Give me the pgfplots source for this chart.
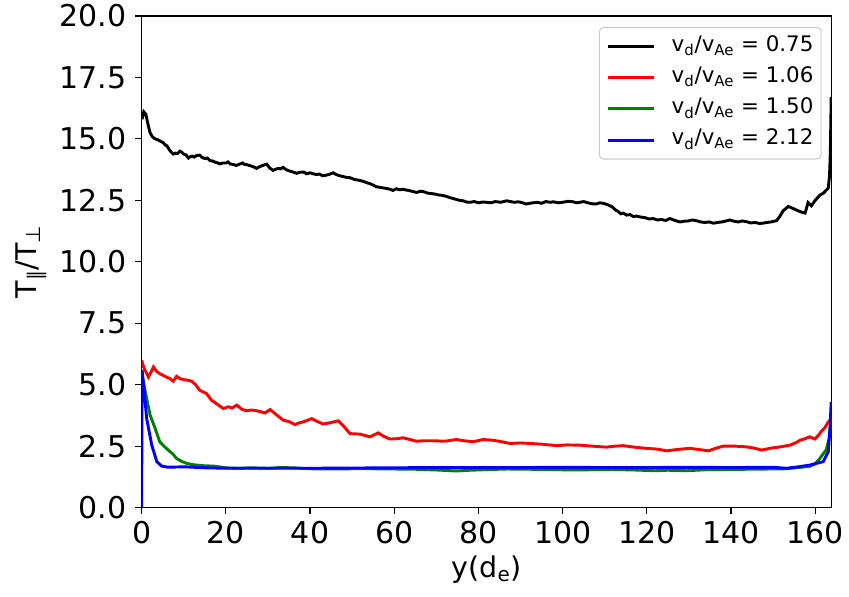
\documentclass[border=0pt]{standalone}
\usepackage{pgfplots}
\pgfplotsset{compat=1.18}
\usepackage{fontspec}
\setmainfont{DejaVu Sans}
\usetikzlibrary{calc}
\definecolor{mplgreen}{HTML}{008000}
\definecolor{legendgray}{HTML}{CCCCCC}
\begin{document}
\begin{tikzpicture}
\begin{axis}[
  name=ax,
  scale only axis,
  width=496.8pt, height=354pt,
  xmin=0, xmax=163.9, ymin=0, ymax=20,
  xtick={0,20,40,60,80,100,120,140,160},
  ytick={0,2.5,5,7.5,10,12.5,15,17.5,20},
  /pgf/number format/assume math mode=true,
  tick label style={font=\fontsize{21.6}{25}\selectfont},
  xticklabel style={inner ysep=5pt},
  yticklabel style={inner xsep=6pt, /pgf/number format/.cd, fixed, fixed zerofill, precision=1},
  label style={font=\fontsize{20.5}{24}\selectfont},
  xlabel={y(d\textsubscript{e})},
  ylabel={T\textsubscript{∥}/T\textsubscript{⊥}},
  tick align=outside,
  xtick pos=lower, ytick pos=left,
  major tick length=4.8pt,
  every tick/.style={black, line width=0.8pt},
  axis line style={line width=0.8pt},
  clip=true,
  legend style={at={(1,1)}, anchor=north east, xshift=-7.2pt, yshift=-7.9pt,
    draw=legendgray, line width=0.8pt, rounded corners=3pt, fill=white, fill opacity=0.8, text opacity=1,
    font=\fontsize{15.4}{18}\selectfont, inner xsep=5.5pt, inner ysep=6pt,
    nodes={inner sep=0pt, text height=11pt, text depth=4.2pt},
    column sep=11.5pt, row sep=7.3pt},
  legend cell align=left,
  legend image code/.code={\draw[#1] (0pt,0pt) -- (33pt,0pt);},
]
\addplot[black, line width=2.1pt] coordinates {
(0.1,15.8)(0.5,16.1)(1,16.0)(1.5,15.6)(2,15.25)(2.5,15.1)(3,15.02)(3.5,14.98)(4,14.95)(4.5,14.9)(5.1,14.85)(5.6,14.75)(6,14.72)(6.6,14.55)(7.1,14.45)(7.5,14.38)(8,14.42)(8.5,14.4)(9.1,14.5)(9.6,14.45)(10,14.38)(10.6,14.34)(11.1,14.22)(11.5,14.27)(12,14.3)(12.5,14.26)(13,14.32)(13.8,14.34)(14.3,14.25)(15,14.2)(15.6,14.22)(16.2,14.12)(16.8,14.1)(17.5,14.05)(18.1,14.02)(18.6,13.98)(19.3,14.02)(20,14.02)(20.5,14.06)(21,13.98)(21.7,13.96)(22.5,13.92)(23.2,13.97)(24,14.02)(24.5,13.95)(24.9,13.96)(25.5,13.92)(26,13.9)(26.7,13.85)(27.3,13.8)(27.9,13.86)(28.5,13.9)(29.1,13.94)(29.7,13.97)(30.4,13.82)(31.2,13.72)(31.8,13.76)(32.5,13.8)(33,13.78)(33.6,13.84)(34.3,13.75)(35,13.7)(35.8,13.66)(36.8,13.6)(37.5,13.64)(38.5,13.65)(39.2,13.58)(40,13.62)(40.7,13.58)(41.5,13.55)(42.2,13.57)(43,13.5)(43.7,13.52)(44.5,13.55)(45.5,13.62)(46.2,13.55)(47,13.5)(47.8,13.47)(48.7,13.43)(49.5,13.42)(50.5,13.35)(51.2,13.33)(52,13.3)(52.7,13.27)(53.4,13.22)(54.2,13.18)(55,13.12)(55.8,13.05)(56.6,13.03)(57.5,13.0)(58.3,12.98)(59,12.95)(59.7,12.9)(60.5,12.97)(61.3,12.93)(62.1,12.95)(62.8,12.92)(63.5,12.9)(64.4,12.86)(65.3,12.82)(66.2,12.87)(67,12.85)(67.8,12.8)(68.5,12.78)(69.5,12.76)(70.5,12.72)(71.5,12.7)(72.4,12.66)(73.4,12.6)(74.5,12.55)(75.5,12.5)(76.4,12.48)(77.2,12.43)(78,12.42)(79,12.45)(80,12.4)(81,12.43)(81.9,12.42)(83,12.4)(84,12.45)(85.3,12.42)(86.7,12.48)(87.6,12.45)(88.5,12.42)(89.5,12.44)(90.5,12.4)(91.3,12.35)(92.2,12.38)(93,12.4)(94,12.42)(95,12.38)(96,12.45)(97,12.42)(97.8,12.44)(99,12.4)(100,12.42)(101.3,12.46)(102.5,12.44)(103.3,12.4)(104.1,12.42)(105,12.45)(106,12.4)(107,12.36)(108,12.35)(108.8,12.4)(109.6,12.38)(110.4,12.34)(111,12.3)(111.6,12.25)(112,12.2)(112.6,12.1)(113.2,12.05)(113.8,11.95)(114.4,11.98)(115.2,11.9)(116,11.92)(116.8,11.84)(117.6,11.86)(118.5,11.82)(119.5,11.8)(120.5,11.74)(121.5,11.76)(122.5,11.7)(123.5,11.72)(124.5,11.68)(125.5,11.76)(126.7,11.68)(127.9,11.62)(128.8,11.65)(129.8,11.66)(130.8,11.7)(131.8,11.67)(132.8,11.62)(133.8,11.6)(134.8,11.62)(135.8,11.57)(136.8,11.6)(137.8,11.62)(138.8,11.66)(139.7,11.7)(140.7,11.65)(141.7,11.62)(142.7,11.66)(143.7,11.63)(144.7,11.58)(145.7,11.6)(146.7,11.56)(147.6,11.57)(148.5,11.6)(149.5,11.62)(150.2,11.65)(150.8,11.67)(151.6,11.85)(152.4,12.08)(153.6,12.25)(155,12.15)(156.4,12.04)(157.6,11.98)(158.3,12.41)(159.1,12.28)(160,12.5)(161.1,12.71)(162,12.8)(162.7,12.93)(163.1,13.0)(163.4,13.5)(163.6,14.5)(163.8,16.7)
};
\addlegendentry{v\textsubscript{d}/v\textsubscript{Ae} = 0.75\hspace{3pt}}
\addplot[red, line width=2.1pt] coordinates {
(0,5.99)(0.5,5.7)(1.6,5.31)(2.2,5.5)(2.8,5.72)(3.5,5.55)(4.3,5.45)(5.1,5.38)(5.9,5.31)(6.7,5.25)(7.5,5.14)(8.3,5.34)(9.1,5.25)(9.9,5.21)(11,5.18)(11.9,5.14)(12.8,5.0)(13.8,4.77)(15.4,4.64)(16.6,4.37)(18,4.2)(19.4,4.03)(20.6,4.1)(21.5,4.05)(22.6,4.17)(23.8,4.0)(24.9,3.94)(26,3.97)(27.3,3.94)(28.3,3.9)(29.3,3.85)(30.5,3.99)(32,3.78)(33.6,3.56)(35,3.5)(36.4,3.38)(37.5,3.45)(38.4,3.49)(40.4,3.62)(41.8,3.5)(43.1,3.4)(44.7,3.45)(46.7,3.53)(47.8,3.35)(49.5,3.01)(51.9,2.99)(54.2,2.88)(56.2,3.04)(57.5,2.9)(59,2.79)(60.5,2.8)(62.1,2.84)(63.5,2.78)(65.3,2.7)(67,2.72)(69.3,2.72)(72,2.7)(74.8,2.77)(76.5,2.72)(78.8,2.68)(81.1,2.77)(83.5,2.74)(85.5,2.68)(87.5,2.61)(90,2.63)(92.2,2.61)(95,2.58)(98.6,2.52)(101,2.55)(104.1,2.54)(107,2.5)(110.4,2.46)(112.5,2.5)(114.4,2.52)(117,2.46)(119.9,2.41)(122.5,2.38)(124.7,2.31)(127,2.36)(130.2,2.41)(132.5,2.36)(134.6,2.31)(136.5,2.42)(138.1,2.5)(141,2.5)(143.7,2.47)(145.5,2.42)(147.3,2.34)(149.5,2.42)(151.6,2.47)(154,2.54)(155.5,2.65)(156.4,2.74)(157.5,2.8)(158.7,2.88)(159.9,2.79)(160.8,2.95)(161.5,3.11)(162.3,3.25)(163.1,3.49)(163.8,3.6)
};
\addlegendentry{v\textsubscript{d}/v\textsubscript{Ae} = 1.06\hspace{3pt}}
\addplot[mplgreen, line width=2.1pt] coordinates {
(0,5.5)(0.4,5.1)(1.2,4.43)(2,3.77)(3.2,3.22)(4.3,2.68)(5.3,2.5)(6.3,2.34)(7.3,2.2)(8.3,2.0)(9.5,1.88)(10.7,1.8)(12,1.75)(13.1,1.73)(15,1.7)(17,1.69)(20,1.62)(23,1.6)(26,1.62)(30,1.6)(33,1.63)(36,1.62)(40,1.58)(45,1.57)(50,1.58)(55,1.58)(60,1.57)(65,1.56)(70,1.53)(74.8,1.49)(78,1.52)(82.7,1.55)(87,1.57)(92,1.56)(97,1.55)(102,1.53)(107,1.54)(112,1.55)(117,1.53)(122,1.5)(125,1.52)(129.5,1.5)(134,1.54)(139,1.55)(144,1.56)(149,1.57)(153,1.58)(156,1.63)(158.7,1.68)(160,1.78)(161.1,2.0)(162.6,2.35)(163.3,2.8)(163.8,3.7)
};
\addlegendentry{v\textsubscript{d}/v\textsubscript{Ae} = 1.50\hspace{3pt}}
\addplot[blue, line width=2.1pt] coordinates {
(0,0)(0.1,5.6)(0.4,5.1)(1.2,3.62)(2.4,2.54)(3.6,1.87)(4.75,1.69)(6,1.65)(8,1.65)(10,1.66)(15,1.62)(20,1.6)(30,1.6)(40,1.6)(50,1.61)(60,1.62)(70,1.63)(80,1.63)(90,1.63)(100,1.64)(110,1.63)(120,1.63)(130,1.64)(140,1.63)(150,1.64)(153.2,1.6)(156,1.66)(158.7,1.73)(161.9,1.87)(163.1,2.27)(163.5,3.2)(163.8,4.3)
};
\addlegendentry{v\textsubscript{d}/v\textsubscript{Ae} = 2.12\hspace{3pt}}
\end{axis}
\path ($(ax.south west)+(-102pt,-64pt)$) rectangle ($(ax.north east)+(12.5pt,9.4pt)$);
\end{tikzpicture}
\end{document}
